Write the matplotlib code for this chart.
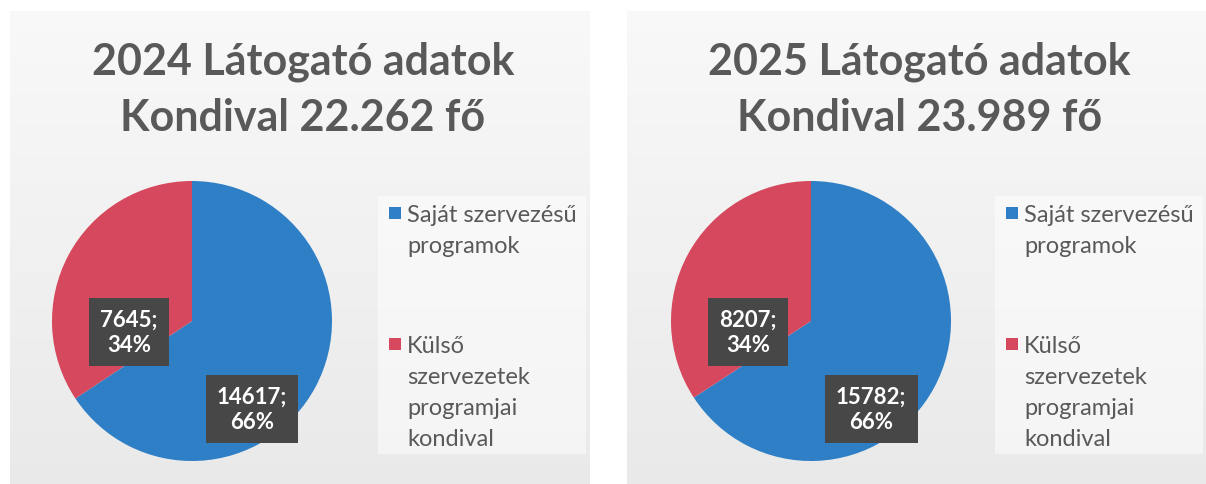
import numpy as np
import matplotlib
matplotlib.use("Agg")
import matplotlib.pyplot as plt
from matplotlib.patches import Rectangle

# data
years = ["2024", "2025"]
totals = ["22.262", "23.989"]
categories = ["Saját szervezésű\nprogramok", "Külső\nszervezetek\nprogramjai\nkondival"]
own_programs = [14617, 15782]
external_programs = [7645, 8207]

blue = "#2f7fc6"
red = "#d5485d"
text_grey = "#595959"
box_grey = "#474747"

plt.rcParams["font.family"] = ["Lato", "DejaVu Sans"]

W, H = 1206, 485
fig = plt.figure(figsize=(W / 100, H / 100), dpi=100)
fig.patch.set_facecolor("white")


def fx(px):
    return px / W


def fy(py):
    # pixel row measured from the top
    return 1 - py / H


# panel geometry in pixels (left, top, right)
panels = [(10, 12, 590), (627, 12, 1206)]

# scanned panel background, a touch darker at the bottom
shade = np.linspace(0.975, 0.915, 200)
grad = np.repeat(shade[:, None, None], 3, axis=2)

for i, (x0, y0, x1) in enumerate(panels):
    bg = fig.add_axes([fx(x0), 0, fx(x1 - x0), (H - y0) / H])
    bg.imshow(grad, aspect="auto", extent=[0, 1, 0, 1], origin="upper")
    bg.add_patch(Rectangle((368 / (x1 - x0), 1 - 443 / (H - y0)),
                           208 / (x1 - x0), 258 / (H - y0),
                           facecolor="white", edgecolor="none", alpha=0.5))
    bg.set_xlim(0, 1)
    bg.set_ylim(0, 1)
    bg.set_axis_off()

    cx = (x0 + x1) / 2
    fig.text(fx(cx + 3), fy(75), f"{years[i]} Látogató adatok",
             ha="center", va="baseline", fontsize=31, fontweight="bold",
             color=text_grey)
    fig.text(fx(cx + 3), fy(131), f"Kondival {totals[i]} fő",
             ha="center", va="baseline", fontsize=31, fontweight="bold",
             color=text_grey)

    # pie, radius 140 px
    pcx = x0 + 182 + i * 2
    ax = fig.add_axes([fx(pcx - 140), (H - 462) / H, 280 / W, 280 / H])
    vals = [own_programs[i], external_programs[i]]
    wedges, _ = ax.pie(vals, colors=[blue, red], startangle=90,
                       counterclock=False, wedgeprops=dict(linewidth=0))
    ax.set_xlim(-1, 1)
    ax.set_ylim(-1, 1)

    total = sum(vals)
    label_pos = [(0.43, -0.63), (-0.45, -0.08)]
    for v, (lx, ly) in zip(vals, label_pos):
        ax.text(lx, ly, f"{v};\n{round(100 * v / total)}%", ha="center",
                va="center", fontsize=16, fontweight="bold", color="white",
                linespacing=1.25,
                bbox=dict(boxstyle="square,pad=0.5", facecolor=box_grey,
                          edgecolor="none"))

    # legend: square key at the first line of each entry, 31 px per line
    for label, color, base in zip(categories, [blue, red], [222, 353]):
        fig.add_artist(Rectangle((fx(x0 + 379), fy(base - 2)), 12 / W, 12 / H,
                                 transform=fig.transFigure,
                                 facecolor=color, edgecolor="none"))
        for j, line in enumerate(label.split("\n")):
            fig.text(fx(x0 + 397), fy(base + 31 * j), line, ha="left",
                     va="baseline", fontsize=17, color=text_grey)

fig.savefig("out.png", dpi=100, facecolor=fig.get_facecolor())
